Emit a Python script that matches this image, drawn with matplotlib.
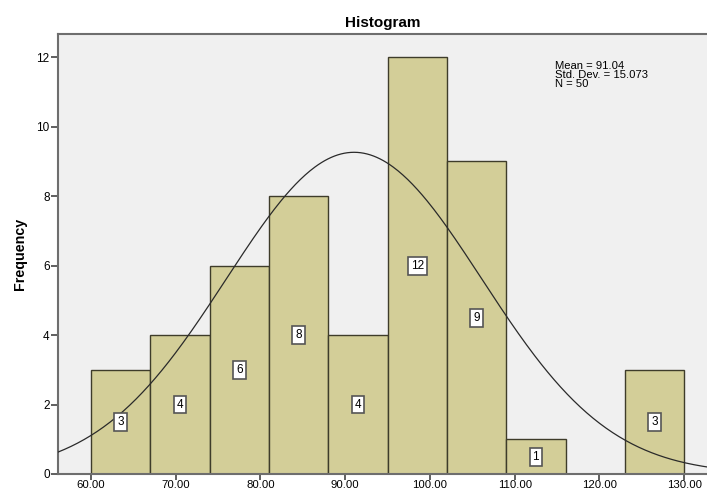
import numpy as np
import matplotlib.pyplot as plt

plt.rcParams['font.family'] = ['Liberation Sans', 'DejaVu Sans']

binEdges = [60, 67, 74, 81, 88, 95, 102, 109, 116, 123, 130]
counts = [3, 4, 6, 8, 4, 12, 9, 1, 0, 3]
mean = 91.04
stdDev = 15.073
n = 50
xTicks = [60, 70, 80, 90, 100, 110, 120, 130]
yTicks = [0, 2, 4, 6, 8, 10, 12]

barColor = '#d3ce98'
edgeColor = '#3e3c2a'
bgColor = '#f0f0f0'
spineColor = '#6e6e6e'

fig = plt.figure(figsize=(7.07, 4.92), dpi=100)
ax = fig.add_axes([58 / 707, 18 / 492, 1 - 58 / 707, (474 - 34) / 492])
ax.set_facecolor(bgColor)

lefts = np.array(binEdges[:-1])
widths = np.diff(binEdges)
ax.bar(lefts, counts, width=widths, align='edge', color=barColor,
       edgecolor=edgeColor, linewidth=1.0, zorder=2)

for x, w, c in zip(lefts, widths, counts):
    if c == 0:
        continue
    ax.text(x + w / 2, c / 2, str(c), ha='center', va='center', fontsize=8.5,
            zorder=4, bbox=dict(boxstyle='square,pad=0.25', fc='white',
                                ec='#555555', lw=1.2))

# normal curve scaled to counts
binWidth = widths[0]
xs = np.linspace(56.1, 132.7, 400)
ys = n * binWidth / (stdDev * np.sqrt(2 * np.pi)) * np.exp(-0.5 * ((xs - mean) / stdDev) ** 2)
ax.plot(xs, ys, color='#2a2a2a', linewidth=0.9, zorder=3)

ax.set_xlim(56.1, 132.7)
ax.set_ylim(0, 12.67)
ax.set_xticks(xTicks)
ax.set_xticklabels([f"{t:.2f}" for t in xTicks], fontsize=8.2)
ax.set_yticks(yTicks)
ax.set_yticklabels([str(t) for t in yTicks], fontsize=8.5)
ax.tick_params(axis='y', direction='out', length=5, width=1.2,
               color='#444444', pad=1)
ax.tick_params(axis='x', direction='out', length=4, width=1.2,
               color='#444444', pad=0.5)

for side in ['left', 'bottom', 'top']:
    ax.spines[side].set_color(spineColor)
    ax.spines[side].set_linewidth(1.5)
ax.spines['right'].set_visible(False)

ax.set_ylabel('Frequency', fontsize=10.3, fontweight='bold', labelpad=7)
ax.set_title('Histogram', fontsize=11, fontweight='bold', pad=5)

ax.text(555, 431, f"Mean = {mean:.2f}\nStd. Dev. = {stdDev:.3f}\nN = {n}",
        transform=None, fontsize=8.1, va='top', ha='left', linespacing=0.9)

fig.savefig('out.png', dpi=100)
